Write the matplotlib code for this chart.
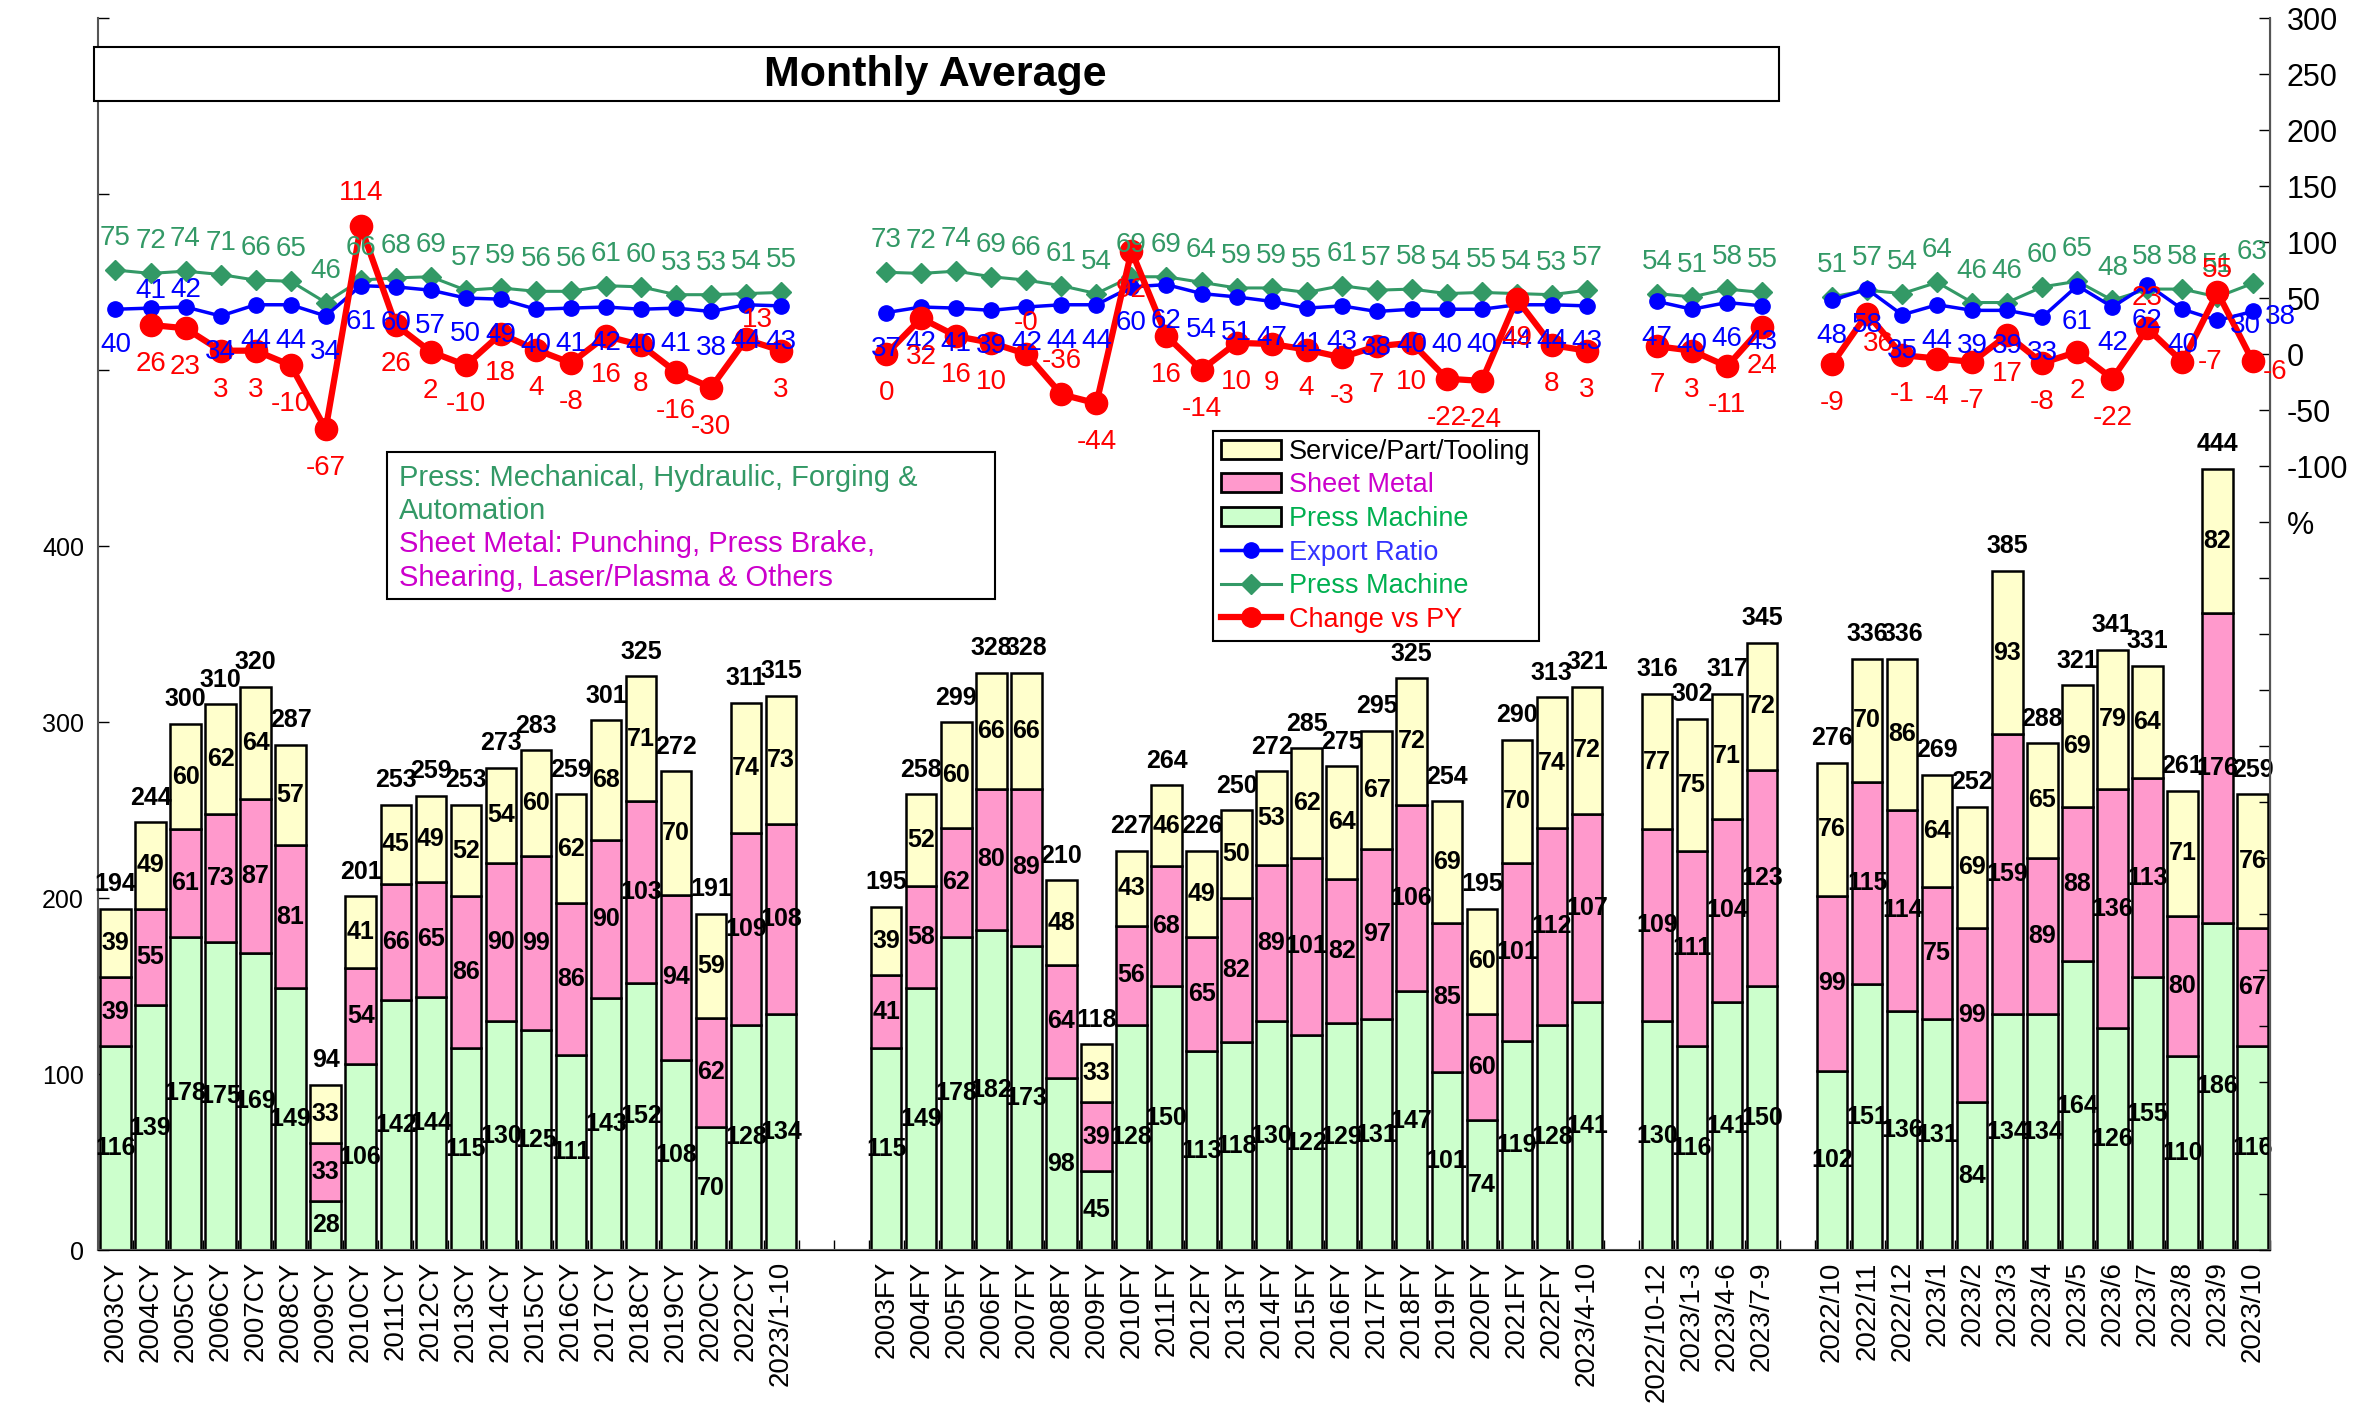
import matplotlib

matplotlib.use("Agg")
import matplotlib.pyplot as plt
from matplotlib.lines import Line2D
from matplotlib.patches import Patch, Rectangle
import numpy as np

# ---- data -------------------------------------------------------------
labels = [
    "2003CY", "2004CY", "2005CY", "2006CY", "2007CY", "2008CY", "2009CY", "2010CY",
    "2011CY", "2012CY", "2013CY", "2014CY", "2015CY", "2016CY", "2017CY", "2018CY",
    "2019CY", "2020CY", "2022CY", "2023/1-10",
    "2003FY", "2004FY", "2005FY", "2006FY", "2007FY", "2008FY", "2009FY", "2010FY",
    "2011FY", "2012FY", "2013FY", "2014FY", "2015FY", "2016FY", "2017FY", "2018FY",
    "2019FY", "2020FY", "2021FY", "2022FY", "2023/4-10",
    "2022/10-12", "2023/1-3", "2023/4-6", "2023/7-9",
    "2022/10", "2022/11", "2022/12", "2023/1", "2023/2", "2023/3", "2023/4",
    "2023/5", "2023/6", "2023/7", "2023/8", "2023/9", "2023/10",
]
group_sizes = [20, 21, 4, 13]
group_gaps = [3, 2, 2]

press = [
    116, 139, 178, 175, 169, 149, 28, 106, 142, 144, 115, 130, 125, 111, 143, 152, 108, 70, 128, 134,
    115, 149, 178, 182, 173, 98, 45, 128, 150, 113, 118, 130, 122, 129, 131, 147, 101, 74, 119, 128, 141,
    130, 116, 141, 150,
    102, 151, 136, 131, 84, 134, 134, 164, 126, 155, 110, 186, 116,
]
sheet = [
    39, 55, 61, 73, 87, 81, 33, 54, 66, 65, 86, 90, 99, 86, 90, 103, 94, 62, 109, 108,
    41, 58, 62, 80, 89, 64, 39, 56, 68, 65, 82, 89, 101, 82, 97, 106, 85, 60, 101, 112, 107,
    109, 111, 104, 123,
    99, 115, 114, 75, 99, 159, 89, 88, 136, 113, 80, 176, 67,
]
service = [
    39, 49, 60, 62, 64, 57, 33, 41, 45, 49, 52, 54, 60, 62, 68, 71, 70, 59, 74, 73,
    39, 52, 60, 66, 66, 48, 33, 43, 46, 49, 50, 53, 62, 64, 67, 72, 69, 60, 70, 74, 72,
    77, 75, 71, 72,
    76, 70, 86, 64, 69, 93, 65, 69, 79, 64, 71, 82, 76,
]
totals = [
    194, 244, 300, 310, 320, 287, 94, 201, 253, 259, 253, 273, 283, 259, 301, 325, 272, 191, 311, 315,
    195, 258, 299, 328, 328, 210, 118, 227, 264, 226, 250, 272, 285, 275, 295, 325, 254, 195, 290, 313, 321,
    316, 302, 317, 345,
    276, 336, 336, 269, 252, 385, 288, 321, 341, 331, 261, 444, 259,
]
press_share = [
    75, 72, 74, 71, 66, 65, 46, 66, 68, 69, 57, 59, 56, 56, 61, 60, 53, 53, 54, 55,
    73, 72, 74, 69, 66, 61, 54, 69, 69, 64, 59, 59, 55, 61, 57, 58, 54, 55, 54, 53, 57,
    54, 51, 58, 55,
    51, 57, 54, 64, 46, 46, 60, 65, 48, 58, 58, 51, 63,
]
export_ratio = [
    40, 41, 42, 34, 44, 44, 34, 61, 60, 57, 50, 49, 40, 41, 42, 40, 41, 38, 44, 43,
    37, 42, 41, 39, 42, 44, 44, 60, 62, 54, 51, 47, 41, 43, 38, 40, 40, 40, 44, 44, 43,
    47, 40, 46, 43,
    48, 58, 35, 44, 39, 39, 33, 61, 42, 62, 40, 30, 38,
]
change_py = [
    None, 26, 23, 3, 3, -10, -67, 114, 26, 2, -10, 18, 4, -8, 16, 8, -16, -30, 13, 3,
    0, 32, 16, 10, -0.0, -36, -44, 92, 16, -14, 10, 9, 4, -3, 7, 10, -22, -24, 49, 8, 3,
    7, 3, -11, 24,
    -9, 36, -1, -4, -7, 17, -8, 2, -22, 23, -7, 55, -6,
]

# ---- label offset tweaks (points) --------------------------------------
blue_off = {1: (0, 12), 2: (0, 12), 56: (20, -4), 57: (20, -4)}
red_off = {7: (0, 24), 18: (8, 14), 24: (0, 22), 25: (0, 24), 54: (0, 22),
           55: (20, 0), 56: (0, 16), 57: (16, -8), 46: (8, -22)}

NUM = ["Liberation Sans Narrow", "Liberation Sans", "DejaVu Sans"]
plt.rcParams["font.family"] = ["Liberation Sans", "DejaVu Sans"]

GREEN_TXT = "#339966"
MAGENTA = "#CC00CC"

# positions with gaps between groups
pos = []
x = 0
for g, n in enumerate(group_sizes):
    pos.extend(range(x, x + n))
    x += n - 1 + (group_gaps[g] if g < len(group_gaps) else 0)
pos = np.array(pos, dtype=float)

press_a = np.array(press, dtype=float)
sheet_a = np.array(sheet, dtype=float)
service_a = np.array(service, dtype=float)
change_a = np.array([np.nan if v is None else v for v in change_py], dtype=float)

fig = plt.figure(figsize=(23.78, 14.09), dpi=100)
ax = fig.add_axes([0.0412, 0.1128, 0.9134, 0.8744])

w = 0.87
kw = dict(width=w, edgecolor="black", linewidth=1.8, zorder=2)
ax.bar(pos, press_a, color="#CCFFCC", **kw)
ax.bar(pos, sheet_a, bottom=press_a, color="#FF99CC", **kw)
ax.bar(pos, service_a, bottom=press_a + sheet_a, color="#FFFFCC", **kw)

for i, xp in enumerate(pos):
    b = 0.0
    for h in (press_a[i], sheet_a[i], service_a[i]):
        ax.text(xp, b + h / 2, f"{int(h)}", ha="center", va="center", fontsize=18,
                fontweight="bold", family=NUM, zorder=3)
        b += h
    ax.annotate(f"{totals[i]}", (xp, b), xytext=(0, 9), textcoords="offset points",
                ha="center", va="bottom", fontsize=18, fontweight="bold", family=NUM, zorder=3)

ax.set_xlim(-0.39, 61.43)
ax.set_ylim(0, 700)
ax.set_yticks(np.arange(0, 701, 100))
ax.set_yticklabels([f"{v}" if v <= 400 else "" for v in range(0, 701, 100)])
ax.set_xticks(pos)
ax.set_xticklabels(labels, rotation=90, fontsize=20)
ax.set_xticks(np.arange(-0.5, 62, 1), minor=True)
ax.tick_params(axis="x", which="major", length=0, pad=8)
ax.tick_params(axis="x", which="minor", direction="in", length=7, width=1)
ax.tick_params(axis="y", direction="in", length=8, width=1, labelsize=18, pad=10)
ax.spines["top"].set_visible(False)
for s in ("left", "bottom"):
    ax.spines[s].set_color("#555555")
    ax.spines[s].set_linewidth(1.5)

ax2 = ax.twinx()
ax2.set_ylim(-800, 300)
rt = np.arange(-800, 301, 50)
ax2.set_yticks(rt)
ax2.set_yticklabels([f"{v}" if v >= -100 else ("%" if v == -150 else "") for v in rt])
ax2.tick_params(axis="y", direction="in", length=8, width=1, labelsize=22, pad=12)
ax2.spines["top"].set_visible(False)
ax2.spines["right"].set_color("#555555")
ax2.spines["right"].set_linewidth(1.5)
ax2.spines["left"].set_visible(False)

starts = np.cumsum([0] + group_sizes)
for s, e in zip(starts[:-1], starts[1:]):
    xs = pos[s:e]
    ax2.plot(xs, press_share[s:e], color="#339966", lw=2.2, marker="D", ms=10, zorder=3)
    ax2.plot(xs, export_ratio[s:e], color="#0000FF", lw=2.5, marker="o", ms=11, zorder=4)
    ax2.plot(xs, change_a[s:e], color="#FF0000", lw=4.5, marker="o", ms=16, zorder=5)

for i, xp in enumerate(pos):
    ax2.annotate(f"{press_share[i]}", (xp, press_share[i]), xytext=(0, 23),
                 textcoords="offset points", ha="center", va="center", fontsize=20,
                 color=GREEN_TXT, family=NUM, zorder=6)
    dx, dy = blue_off.get(i, (0, -26))
    ax2.annotate(f"{export_ratio[i]}", (xp, export_ratio[i]), xytext=(dx, dy),
                 textcoords="offset points", ha="center", va="center", fontsize=20,
                 color="#0000FF", family=NUM, zorder=6)
    if not np.isnan(change_a[i]):
        dx, dy = red_off.get(i, (0, -28))
        v = change_py[i]
        txt = "-0" if (v == 0 and str(v).startswith("-")) else f"{int(v)}"
        ax2.annotate(txt, (xp, change_a[i]), xytext=(dx, dy),
                     textcoords="offset points", ha="center", va="center", fontsize=20,
                     color="#FF0000", family=NUM, zorder=6)

# title box
fig.add_artist(Rectangle((0.0395, 0.928), 0.7086, 0.0386, transform=fig.transFigure,
                         facecolor="white", edgecolor="black", linewidth=1.5))
fig.text(0.3935, 0.947, "Monthly Average", ha="center", va="center", fontsize=31,
         fontweight="bold")

# note box
fig.add_artist(Rectangle((0.1626, 0.575), 0.2558, 0.104, transform=fig.transFigure,
                         facecolor="white", edgecolor="black", linewidth=1.5))
note = [
    ("Press: Mechanical, Hydraulic, Forging &", GREEN_TXT),
    ("Automation", GREEN_TXT),
    ("Sheet Metal: Punching, Press Brake,", MAGENTA),
    ("Shearing, Laser/Plasma & Others", MAGENTA),
]
for k, (t, c) in enumerate(note):
    fig.text(0.1677, 0.661 - k * 0.0237, t, ha="left", va="center", fontsize=21, color=c)

# legend
handles = [
    Patch(facecolor="#FFFFCC", edgecolor="black", linewidth=2),
    Patch(facecolor="#FF99CC", edgecolor="black", linewidth=2),
    Patch(facecolor="#CCFFCC", edgecolor="black", linewidth=2),
    Line2D([], [], color="#0000FF", lw=2.5, marker="o", ms=11),
    Line2D([], [], color="#339966", lw=2.2, marker="D", ms=10),
    Line2D([], [], color="#FF0000", lw=4.5, marker="o", ms=14),
]
names = ["Service/Part/Tooling", "Sheet Metal", "Press Machine", "Export Ratio",
         "Press Machine", "Change vs PY"]
leg = fig.legend(handles, names, loc="upper left", bbox_to_anchor=(800 / 1568, 1 - 284 / 929),
                 bbox_transform=fig.transFigure, frameon=True, fancybox=False,
                 edgecolor="black", framealpha=1, fontsize=19.5, labelspacing=0.28,
                 handlelength=2.2, handletextpad=0.3, borderpad=0.3, borderaxespad=0,
                 labelcolor=["black", MAGENTA, "#00B050", "#3333FF", "#00B050", "#FF0000"])
leg.get_frame().set_linewidth(1.5)

fig.savefig("out.png", dpi=100)
